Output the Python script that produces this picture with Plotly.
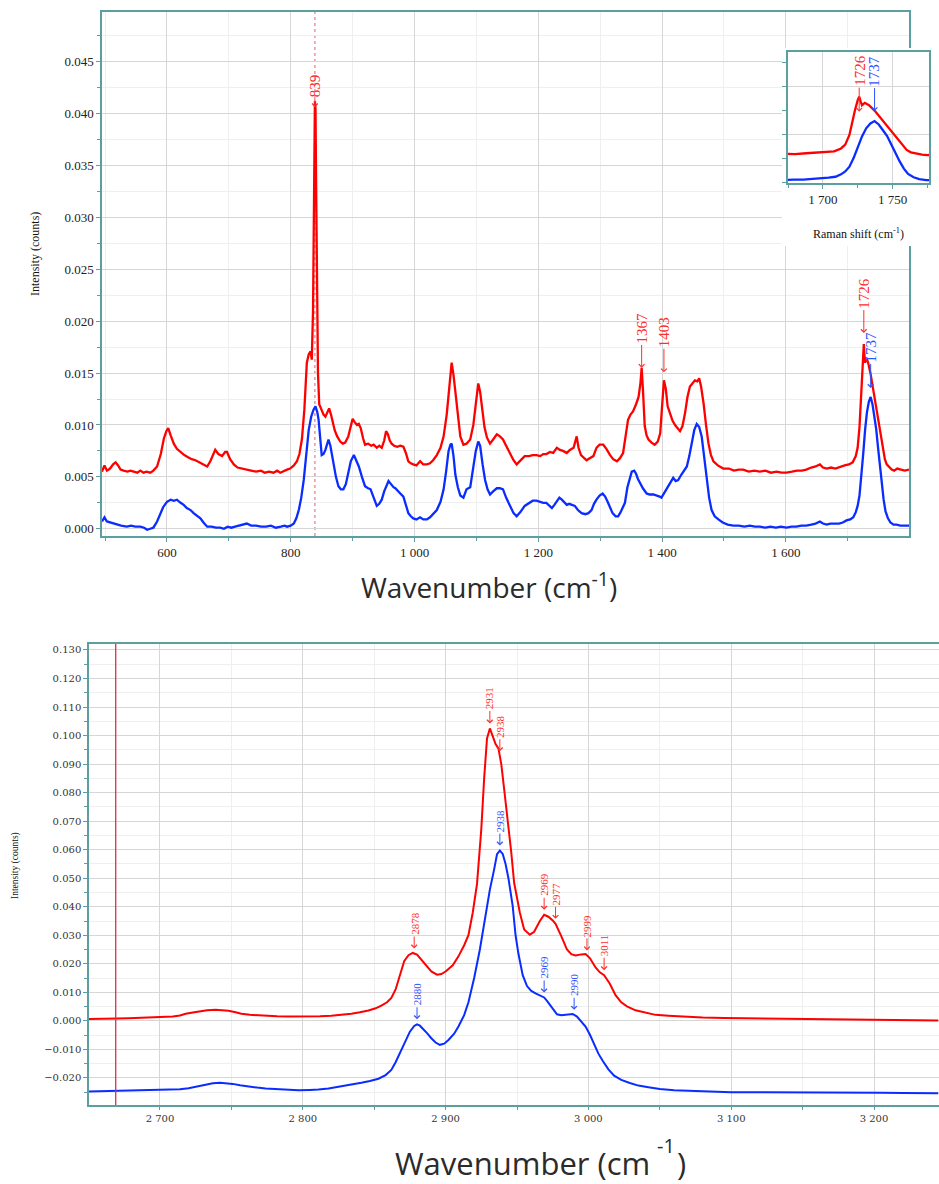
import numpy as np
import plotly.graph_objects as go

# ---------------- data: upper spectrum (500-1800 cm-1) ----------------
top_red_x = [495, 499, 503, 508, 513, 517, 521, 525, 530, 536, 541, 546, 552, 557, 562, 567, 573, 578, 584, 590,
             595, 599, 602, 606, 611, 616, 622, 628, 634, 640, 646, 652, 658, 665, 670, 675, 678, 683, 689, 694,
             697, 702, 708, 714, 720, 729, 736, 744, 752, 758, 765, 772, 778, 783, 789, 794, 799, 805, 810, 814,
             818, 822, 826, 829, 832, 834, 836, 838, 839, 840, 841, 842, 844, 846, 850, 853, 856, 859, 862, 865,
             868, 871, 875, 880, 884, 888, 893, 897, 900, 903, 907, 910, 913, 917, 920, 925, 930, 934, 939, 943,
             947, 951, 954, 957, 960, 963, 967, 972, 977, 982, 986, 990, 994, 998, 1003, 1009, 1014, 1020, 1025, 1030,
             1036, 1042, 1047, 1052, 1055, 1058, 1060, 1063, 1066, 1070, 1074, 1079, 1084, 1090, 1095, 1099, 1103, 1106, 1109, 1113,
             1117, 1122, 1127, 1133, 1138, 1143, 1148, 1154, 1160, 1165, 1171, 1178, 1185, 1191, 1197, 1203, 1208, 1213, 1219, 1224,
             1230, 1235, 1240, 1246, 1251, 1257, 1262, 1265, 1269, 1273, 1278, 1283, 1289, 1294, 1299, 1305, 1310, 1316, 1321, 1327,
             1332, 1337, 1341, 1345, 1349, 1353, 1358, 1362, 1365, 1367, 1369, 1372, 1375, 1378, 1383, 1388, 1393, 1397, 1400, 1403,
             1406, 1409, 1413, 1417, 1421, 1425, 1429, 1433, 1437, 1441, 1445, 1449, 1453, 1457, 1460, 1463, 1467, 1471, 1475, 1479,
             1483, 1490, 1499, 1508, 1516, 1524, 1531, 1540, 1549, 1558, 1567, 1576, 1585, 1593, 1601, 1610, 1618, 1626, 1633, 1641,
             1648, 1655, 1660, 1666, 1673, 1680, 1688, 1695, 1702, 1708, 1713, 1716, 1719, 1721, 1723, 1725, 1726, 1727, 1728, 1730,
             1733, 1737, 1740, 1743, 1747, 1751, 1754, 1757, 1760, 1763, 1767, 1771, 1775, 1780, 1786, 1792, 1799]
top_red_y = [0.0055, 0.0061, 0.0056, 0.0058, 0.0062, 0.0064, 0.0061, 0.0057, 0.0056, 0.0055, 0.0056, 0.0055, 0.0054, 0.0056, 0.0054, 0.0055, 0.0054, 0.0056, 0.0060, 0.0072,
             0.0087, 0.0094, 0.0097, 0.0090, 0.0082, 0.0077, 0.0074, 0.0071, 0.0069, 0.0067, 0.0066, 0.0064, 0.0062, 0.0060, 0.0065, 0.0073, 0.0076, 0.0072, 0.0070, 0.0074,
             0.0074, 0.0067, 0.0062, 0.0059, 0.0058, 0.0057, 0.0056, 0.0055, 0.0056, 0.0054, 0.0055, 0.0054, 0.0056, 0.0054, 0.0056, 0.0057, 0.0058, 0.0061, 0.0065, 0.0072,
             0.0086, 0.0115, 0.0160, 0.0168, 0.0171, 0.0163, 0.0210, 0.0340, 0.0412, 0.0405, 0.0330, 0.0230, 0.0150, 0.0120, 0.0113, 0.0110, 0.0108, 0.0113, 0.0116, 0.0110,
             0.0102, 0.0095, 0.0089, 0.0084, 0.0082, 0.0083, 0.0089, 0.0100, 0.0106, 0.0103, 0.0100, 0.0101, 0.0097, 0.0087, 0.0081, 0.0082, 0.0080, 0.0081, 0.0078, 0.0080,
             0.0078, 0.0085, 0.0094, 0.0091, 0.0085, 0.0082, 0.0080, 0.0079, 0.0080, 0.0079, 0.0073, 0.0065, 0.0063, 0.0062, 0.0061, 0.0065, 0.0062, 0.0062, 0.0063, 0.0066,
             0.0071, 0.0078, 0.0089, 0.0110, 0.0131, 0.0152, 0.0160, 0.0148, 0.0131, 0.0105, 0.0089, 0.0081, 0.0082, 0.0086, 0.0100, 0.0120, 0.0140, 0.0132, 0.0115, 0.0098,
             0.0088, 0.0082, 0.0086, 0.0091, 0.0089, 0.0086, 0.0080, 0.0073, 0.0066, 0.0062, 0.0066, 0.0070, 0.0070, 0.0071, 0.0071, 0.0070, 0.0072, 0.0072, 0.0074, 0.0073,
             0.0078, 0.0076, 0.0075, 0.0073, 0.0076, 0.0078, 0.0089, 0.0078, 0.0071, 0.0069, 0.0066, 0.0068, 0.0070, 0.0078, 0.0081, 0.0081, 0.0077, 0.0071, 0.0067, 0.0065,
             0.0068, 0.0073, 0.0090, 0.0105, 0.0110, 0.0113, 0.0120, 0.0127, 0.0140, 0.0155, 0.0135, 0.0099, 0.0090, 0.0086, 0.0083, 0.0081, 0.0084, 0.0092, 0.0118, 0.0143,
             0.0135, 0.0118, 0.0111, 0.0104, 0.0100, 0.0097, 0.0094, 0.0099, 0.0111, 0.0127, 0.0137, 0.0140, 0.0143, 0.0142, 0.0145, 0.0137, 0.0121, 0.0100, 0.0082, 0.0071,
             0.0065, 0.0061, 0.0058, 0.0058, 0.0056, 0.0057, 0.0057, 0.0055, 0.0056, 0.0055, 0.0056, 0.0054, 0.0055, 0.0054, 0.0054, 0.0055, 0.0056, 0.0056, 0.0057, 0.0059,
             0.0060, 0.0062, 0.0059, 0.0058, 0.0059, 0.0058, 0.0060, 0.0061, 0.0062, 0.0064, 0.0070, 0.0078, 0.0098, 0.0125, 0.0150, 0.0171, 0.0178, 0.0168, 0.0160, 0.0165,
             0.0160, 0.0149, 0.0138, 0.0127, 0.0114, 0.0100, 0.0088, 0.0076, 0.0067, 0.0062, 0.0059, 0.0057, 0.0056, 0.0058, 0.0057, 0.0056, 0.0057]

top_blue_x = [495, 499, 503, 508, 514, 520, 526, 535, 542, 549, 557, 563, 568, 573, 578, 584, 589, 594, 600, 606,
              611, 616, 622, 627, 632, 638, 643, 648, 654, 659, 665, 672, 679, 686, 692, 698, 704, 710, 716, 722,
              729, 736, 744, 752, 760, 768, 776, 784, 790, 794, 800, 805, 809, 813, 817, 821, 825, 829, 833, 837,
              840, 843, 845, 848, 850, 853, 856, 859, 861, 864, 867, 870, 873, 877, 881, 885, 889, 893, 897, 902,
              906, 910, 915, 920, 925, 929, 934, 939, 943, 947, 951, 955, 958, 962, 966, 969, 973, 977, 982, 986,
              990, 994, 998, 1003, 1009, 1014, 1020, 1025, 1030, 1036, 1042, 1047, 1051, 1055, 1058, 1060, 1063, 1066, 1070, 1074,
              1079, 1084, 1090, 1095, 1099, 1103, 1106, 1110, 1114, 1118, 1122, 1127, 1133, 1138, 1143, 1148, 1154, 1160, 1165, 1171,
              1178, 1185, 1191, 1197, 1203, 1208, 1213, 1218, 1222, 1226, 1230, 1234, 1238, 1242, 1246, 1250, 1255, 1259, 1264, 1270,
              1276, 1281, 1286, 1290, 1294, 1299, 1304, 1308, 1312, 1316, 1320, 1325, 1329, 1333, 1337, 1340, 1344, 1348, 1351, 1355,
              1358, 1361, 1364, 1369, 1375, 1380, 1386, 1392, 1396, 1399, 1403, 1407, 1412, 1418, 1422, 1426, 1431, 1436, 1440, 1444,
              1448, 1452, 1456, 1460, 1464, 1468, 1472, 1476, 1480, 1485, 1491, 1498, 1506, 1515, 1524, 1533, 1542, 1550, 1558, 1567,
              1575, 1584, 1592, 1601, 1609, 1617, 1625, 1633, 1641, 1648, 1655, 1660, 1666, 1672, 1679, 1686, 1692, 1698, 1704, 1709,
              1713, 1716, 1719, 1722, 1725, 1728, 1731, 1734, 1737, 1740, 1743, 1746, 1749, 1752, 1755, 1758, 1761, 1765, 1769, 1774,
              1779, 1785, 1792, 1799]
top_blue_y = [0.0007, 0.0011, 0.0007, 0.0006, 0.0005, 0.0004, 0.0003, 0.0002, 0.0003, 0.0002, 0.0002, 0.0001, -0.0001, 0.0000, 0.0001, 0.0007, 0.0015, 0.0021, 0.0026, 0.0028,
              0.0027, 0.0028, 0.0025, 0.0023, 0.0020, 0.0018, 0.0015, 0.0013, 0.0010, 0.0006, 0.0002, 0.0002, 0.0001, 0.0001, 0.0000, 0.0002, 0.0001, 0.0002, 0.0003, 0.0004,
              0.0005, 0.0003, 0.0003, 0.0002, 0.0002, 0.0003, 0.0001, 0.0002, 0.0003, 0.0002, 0.0003, 0.0005, 0.0010, 0.0018, 0.0030, 0.0047, 0.0072, 0.0095, 0.0108, 0.0115,
              0.0118, 0.0112, 0.0105, 0.0085, 0.0071, 0.0072, 0.0076, 0.0082, 0.0086, 0.0080, 0.0070, 0.0060, 0.0050, 0.0041, 0.0038, 0.0038, 0.0043, 0.0054, 0.0065, 0.0071,
              0.0066, 0.0060, 0.0050, 0.0041, 0.0039, 0.0038, 0.0030, 0.0022, 0.0024, 0.0028, 0.0036, 0.0043, 0.0046, 0.0043, 0.0040, 0.0039, 0.0036, 0.0034, 0.0031, 0.0024,
              0.0015, 0.0012, 0.0010, 0.0009, 0.0011, 0.0009, 0.0009, 0.0011, 0.0014, 0.0018, 0.0026, 0.0038, 0.0055, 0.0075, 0.0081, 0.0082, 0.0070, 0.0052, 0.0040, 0.0032,
              0.0030, 0.0038, 0.0040, 0.0060, 0.0075, 0.0084, 0.0080, 0.0062, 0.0047, 0.0038, 0.0033, 0.0036, 0.0039, 0.0039, 0.0038, 0.0030, 0.0022, 0.0015, 0.0012, 0.0016,
              0.0022, 0.0025, 0.0027, 0.0027, 0.0026, 0.0025, 0.0025, 0.0022, 0.0020, 0.0023, 0.0027, 0.0030, 0.0028, 0.0025, 0.0023, 0.0024, 0.0023, 0.0022, 0.0018, 0.0015,
              0.0014, 0.0015, 0.0018, 0.0024, 0.0028, 0.0032, 0.0034, 0.0031, 0.0026, 0.0020, 0.0015, 0.0012, 0.0012, 0.0016, 0.0022, 0.0025, 0.0040, 0.0050, 0.0055, 0.0056,
              0.0053, 0.0048, 0.0044, 0.0039, 0.0034, 0.0033, 0.0033, 0.0032, 0.0031, 0.0030, 0.0034, 0.0039, 0.0043, 0.0049, 0.0046, 0.0047, 0.0052, 0.0056, 0.0060, 0.0070,
              0.0082, 0.0095, 0.0101, 0.0098, 0.0089, 0.0070, 0.0047, 0.0030, 0.0018, 0.0012, 0.0009, 0.0006, 0.0004, 0.0003, 0.0003, 0.0002, 0.0003, 0.0002, 0.0002, 0.0001,
              0.0002, 0.0001, 0.0002, 0.0001, 0.0002, 0.0002, 0.0003, 0.0003, 0.0004, 0.0005, 0.0007, 0.0005, 0.0004, 0.0005, 0.0005, 0.0005, 0.0006, 0.0008, 0.0009, 0.0011,
              0.0016, 0.0022, 0.0032, 0.0050, 0.0072, 0.0095, 0.0112, 0.0122, 0.0127, 0.0120, 0.0108, 0.0096, 0.0078, 0.0060, 0.0043, 0.0028, 0.0017, 0.0010, 0.0006, 0.0004,
              0.0004, 0.0003, 0.0003, 0.0003]

# ---------------- data: lower spectrum (2650-3245 cm-1) ----------------
bot_red_x = [2650, 2656, 2662, 2670, 2678, 2686, 2693, 2701, 2709, 2714, 2718, 2723, 2727, 2733, 2739, 2744, 2748, 2753, 2757, 2763,
             2769, 2774, 2782, 2790, 2797, 2805, 2812, 2820, 2827, 2834, 2840, 2846, 2851, 2855, 2859, 2862, 2865, 2867, 2869, 2871,
             2874, 2877, 2880, 2883, 2887, 2890, 2894, 2897, 2900, 2905, 2909, 2913, 2916, 2919, 2922, 2925, 2927, 2929, 2931, 2933,
             2935, 2937, 2939, 2941, 2944, 2946, 2948, 2952, 2955, 2959, 2962, 2966, 2969, 2972, 2975, 2977, 2981, 2985, 2988, 2991,
             2995, 2998, 3001, 3005, 3008, 3011, 3015, 3019, 3023, 3027, 3033, 3040, 3047, 3056, 3066, 3080, 3095, 3110, 3125, 3140,
             3155, 3170, 3185, 3200, 3215, 3230, 3245]
bot_red_y = [0.0006, 0.0006, 0.0007, 0.0008, 0.0009, 0.0010, 0.0012, 0.0013, 0.0015, 0.0019, 0.0025, 0.0029, 0.0033, 0.0037, 0.0039, 0.0038, 0.0035, 0.0030, 0.0025, 0.0021,
             0.0019, 0.0018, 0.0016, 0.0015, 0.0015, 0.0016, 0.0016, 0.0018, 0.0021, 0.0025, 0.0030, 0.0036, 0.0044, 0.0053, 0.0065, 0.0080, 0.0110, 0.0144, 0.0180, 0.0209,
             0.0230, 0.0238, 0.0232, 0.0214, 0.0190, 0.0173, 0.0162, 0.0164, 0.0173, 0.0195, 0.0226, 0.0265, 0.0300, 0.0379, 0.0480, 0.0672, 0.0850, 0.0990, 0.1025, 0.0995,
             0.0970, 0.0955, 0.0900, 0.0812, 0.0690, 0.0590, 0.0484, 0.0379, 0.0320, 0.0302, 0.0312, 0.0350, 0.0372, 0.0365, 0.0352, 0.0340, 0.0297, 0.0250, 0.0234, 0.0229,
             0.0233, 0.0234, 0.0220, 0.0187, 0.0170, 0.0160, 0.0130, 0.0090, 0.0065, 0.0051, 0.0037, 0.0028, 0.0021, 0.0018, 0.0015, 0.0012, 0.0010, 0.0009, 0.0007, 0.0006,
             0.0005, 0.0004, 0.0004, 0.0004, 0.0003, 0.0002, 0.0001]

bot_blue_x = [2650, 2658, 2666, 2674, 2682, 2690, 2698, 2706, 2714, 2720, 2726, 2732, 2737, 2742, 2746, 2751, 2756, 2762, 2768, 2774,
              2782, 2790, 2797, 2805, 2811, 2818, 2827, 2835, 2841, 2847, 2853, 2858, 2862, 2865, 2869, 2872, 2875, 2878, 2880, 2882,
              2884, 2887, 2890, 2893, 2896, 2899, 2902, 2906, 2909, 2913, 2916, 2920, 2924, 2927, 2931, 2934, 2936, 2938, 2940, 2942,
              2944, 2947, 2949, 2951, 2954, 2957, 2960, 2963, 2966, 2969, 2971, 2974, 2978, 2981, 2985, 2989, 2992, 2995, 2998, 3001,
              3004, 3007, 3010, 3014, 3018, 3023, 3029, 3035, 3042, 3050, 3060, 3072, 3085, 3100, 3115, 3130, 3145, 3160, 3175, 3190,
              3205, 3220, 3235, 3245]
bot_blue_y = [-0.0248, -0.0247, -0.0246, -0.0245, -0.0244, -0.0243, -0.0244, -0.0243, -0.0240, -0.0236, -0.0230, -0.0223, -0.0219, -0.0217, -0.0218, -0.0221, -0.0226, -0.0231, -0.0234, -0.0237,
              -0.0240, -0.0242, -0.0243, -0.0242, -0.0241, -0.0237, -0.0230, -0.0223, -0.0217, -0.0211, -0.0203, -0.0190, -0.0172, -0.0145, -0.0102, -0.0068, -0.0038, -0.0018, -0.0012, -0.0017,
              -0.0026, -0.0043, -0.0061, -0.0076, -0.0084, -0.0080, -0.0067, -0.0045, -0.0020, 0.0020, 0.0065, 0.0150, 0.0250, 0.0340, 0.0460, 0.0531, 0.0584, 0.0597, 0.0585, 0.0550,
              0.0500, 0.0402, 0.0300, 0.0235, 0.0160, 0.0122, 0.0105, 0.0096, 0.0088, 0.0082, 0.0070, 0.0048, 0.0023, 0.0020, 0.0021, 0.0024, 0.0015, -0.0002, -0.0020, -0.0048,
              -0.0082, -0.0115, -0.0140, -0.0170, -0.0192, -0.0207, -0.0218, -0.0227, -0.0233, -0.0239, -0.0243, -0.0246, -0.0248, -0.0250, -0.0250, -0.0251, -0.0252, -0.0251, -0.0252, -0.0251,
              -0.0252, -0.0253, -0.0253, -0.0254]

# ---------------- peak labels ----------------
top_red_peaks = [839, 1367, 1403, 1726]
top_blue_peaks = [1737]
inset_red_peaks = [1726]
inset_blue_peaks = [1737]
bot_red_peaks = [2878, 2931, 2938, 2969, 2977, 2999, 3011]
bot_blue_peaks = [2880, 2938, 2969, 2990]

top_marker_line = 839
bot_marker_line = 2669

# ---------------- styling ----------------
REF_W, H = 939, 1184
RED = "#ff0000"
BLUE = "#0a2cff"
RED_TXT = "#ff2d2d"
BLUE_TXT = "#2f52ff"
TEAL = "#5c9fa0"
GRID = "#d6d6d6"
MINOR = "#efefef"
SERIF = "Liberation Serif"

# label offsets (text offset in px, arrow standoff in px, vertical shift in px)
top_label_style = {839: (-22, 0, -6), 1367: (-40, 0, 0), 1403: (-48, 8, 0), 1726: (-51, 11, 0)}
top_blue_label_style = {1737: (-50, 9, 0)}
inset_label_style = {"red": (-41, 0, -15), "blue": (-50, 10, 0)}
bot_label_style = (-30, 5, 0)


def px_x(a, b):
    return [a / REF_W, b / REF_W]


def px_y(top, bottom):
    return [1 - bottom / H, 1 - top / H]


def pxx(a):
    return a / REF_W


def pxy(a):
    return 1 - a / H


fig = go.Figure()

fig.add_trace(go.Scatter(x=top_red_x, y=top_red_y, mode="lines", line=dict(color=RED, width=2.3),
                         xaxis="x", yaxis="y", showlegend=False, hoverinfo="skip"))
fig.add_trace(go.Scatter(x=top_blue_x, y=top_blue_y, mode="lines", line=dict(color=BLUE, width=2.3),
                         xaxis="x", yaxis="y", showlegend=False, hoverinfo="skip"))
fig.add_trace(go.Scatter(x=bot_red_x, y=bot_red_y, mode="lines", line=dict(color=RED, width=2),
                         xaxis="x2", yaxis="y2", showlegend=False, hoverinfo="skip"))
fig.add_trace(go.Scatter(x=bot_blue_x, y=bot_blue_y, mode="lines", line=dict(color=BLUE, width=2),
                         xaxis="x2", yaxis="y2", showlegend=False, hoverinfo="skip"))
fig.add_trace(go.Scatter(x=[], y=[], xaxis="x3", yaxis="y3", showlegend=False, hoverinfo="skip"))
fig.add_trace(go.Scatter(x=top_red_x, y=top_red_y, mode="lines", line=dict(color=RED, width=2.3),
                         xaxis="x4", yaxis="y4", showlegend=False, hoverinfo="skip"))
fig.add_trace(go.Scatter(x=top_blue_x, y=top_blue_y, mode="lines", line=dict(color=BLUE, width=2.3),
                         xaxis="x4", yaxis="y4", showlegend=False, hoverinfo="skip"))

common_axis = dict(showline=True, linecolor=TEAL, linewidth=1.5, ticks="outside", tickcolor=TEAL,
                   zeroline=False, showgrid=True, gridcolor=GRID, gridwidth=1.3)

# width is left to the page: the figure fills whatever width the window gives it
fig.update_layout(
    height=H, autosize=True,
    margin=dict(l=0, r=0, t=0, b=0),
    paper_bgcolor="white", plot_bgcolor="white",
    separators=". ",
    xaxis=dict(domain=px_x(102, 909), anchor="y", range=[495, 1799], dtick=200, tick0=0, mirror=True,
               ticklen=4, separatethousands=True,
               tickfont=dict(family=SERIF, size=13, color="#222"),
               minor=dict(dtick=100, ticks="outside", ticklen=3, tickcolor=TEAL, showgrid=True, gridcolor=MINOR),
               **common_axis),
    yaxis=dict(domain=px_y(12, 536), anchor="x", range=[-0.0007, 0.0498], dtick=0.005, tick0=0,
               tickformat=".3f", mirror=True, ticklen=4,
               tickfont=dict(family=SERIF, size=13, color="#222"),
               minor=dict(dtick=0.0025, ticks="outside", ticklen=3, tickcolor=TEAL, showgrid=True, gridcolor=MINOR),
               **common_axis),
    xaxis2=dict(domain=px_x(89, 939), anchor="y2", range=[2650.3, 3245.5], dtick=100, tick0=0, mirror=True,
                ticklen=3, separatethousands=True,
                tickfont=dict(family="DejaVu Serif", size=10, color="#333"),
                minor=dict(dtick=50, ticks="outside", ticklen=3, tickcolor=TEAL, showgrid=True, gridcolor=MINOR),
                **common_axis),
    yaxis2=dict(domain=px_y(644, 1105), anchor="x2", range=[-0.0295, 0.1321], dtick=0.01, tick0=0,
                tickformat=".3f", ticklen=4,
                tickfont=dict(family="DejaVu Serif", size=10, color="#333"),
                minor=dict(dtick=0.005, ticks="outside", ticklen=3, tickcolor=TEAL, showgrid=True, gridcolor=MINOR),
                **common_axis),
    xaxis3=dict(domain=px_x(782, 939), anchor="y3", visible=False, range=[0, 1]),
    yaxis3=dict(domain=px_y(48, 246), anchor="x3", visible=False, range=[0, 1]),
    xaxis4=dict(domain=px_x(788, 929), anchor="y4", range=[1675, 1776], dtick=50, tick0=0, mirror=True,
                ticklen=4, separatethousands=True,
                tickfont=dict(family=SERIF, size=13, color="#222"),
                minor=dict(dtick=25, ticks="outside", ticklen=3, tickcolor=TEAL, showgrid=False),
                **common_axis),
    yaxis4=dict(domain=px_y(52, 183), anchor="x4", range=[-0.0002, 0.0271], dtick=0.01, tick0=0,
                showticklabels=False, mirror=True, ticklen=4,
                minor=dict(dtick=0.005, ticks="outside", ticklen=4, tickcolor=TEAL, showgrid=False),
                **common_axis),
)

fig.add_shape(type="line", xref="x", yref="y domain", x0=top_marker_line, x1=top_marker_line, y0=0, y1=1,
              line=dict(color="#e8798a", width=1.2, dash="dot"), layer="below")
fig.add_shape(type="line", xref="x2", yref="y2 domain", x0=bot_marker_line, x1=bot_marker_line, y0=0, y1=1,
              line=dict(color="#d6304c", width=1.3), layer="above")


def label(xs, ys, peak, color, xref, yref, size, style):
    ay, standoff, yshift = style
    yv = float(np.interp(peak, xs, ys))
    fig.add_annotation(x=peak, y=yv, xref=xref, yref=yref, text=str(peak), textangle=-90,
                       showarrow=True, ax=0, ay=ay, arrowhead=4, arrowsize=1.1, arrowwidth=1,
                       arrowcolor=color, standoff=standoff, yshift=yshift,
                       font=dict(family=SERIF, size=size, color=color))


for p in top_red_peaks:
    label(top_red_x, top_red_y, p, RED_TXT, "x", "y", 15, top_label_style[p])
for p in top_blue_peaks:
    label(top_blue_x, top_blue_y, p, BLUE_TXT, "x", "y", 15, top_blue_label_style[p])
for p in inset_red_peaks:
    label(top_red_x, top_red_y, p, RED_TXT, "x4", "y4", 15, inset_label_style["red"])
for p in inset_blue_peaks:
    label(top_blue_x, top_blue_y, p, BLUE_TXT, "x4", "y4", 15, inset_label_style["blue"])
for p in bot_red_peaks:
    label(bot_red_x, bot_red_y, p, RED_TXT, "x2", "y2", 11, bot_label_style)
for p in bot_blue_peaks:
    label(bot_blue_x, bot_blue_y, p, BLUE_TXT, "x2", "y2", 11, bot_label_style)


def text(x, y, s, size, family, color="#111", angle=0, xanchor="center"):
    fig.add_annotation(x=pxx(x), y=pxy(y), xref="paper", yref="paper", text=s, textangle=angle,
                       showarrow=False, xanchor=xanchor, yanchor="middle",
                       font=dict(family=family, size=size, color=color))


text(35, 254, "Intensity (counts)", 12, SERIF, angle=-90)
text(15, 866, "Intensity (counts)", 9.5, SERIF, angle=-90)
text(489, 585, "Wavenumber (cm<sup>-1</sup>)", 28, "Open Sans", "#2b2b2b")
text(652, 1163, "Wavenumber (cm", 31, "Open Sans", "#2b2b2b", xanchor="right")
text(675, 1163, ")", 31, "Open Sans", "#2b2b2b", xanchor="left")
text(666, 1145, "-1", 20, "Open Sans", "#2b2b2b")
text(858, 233, "Raman shift (cm<sup>-1</sup>)", 12, SERIF)

fig.write_html("out.html", default_width="100%", default_height="%dpx" % H)
